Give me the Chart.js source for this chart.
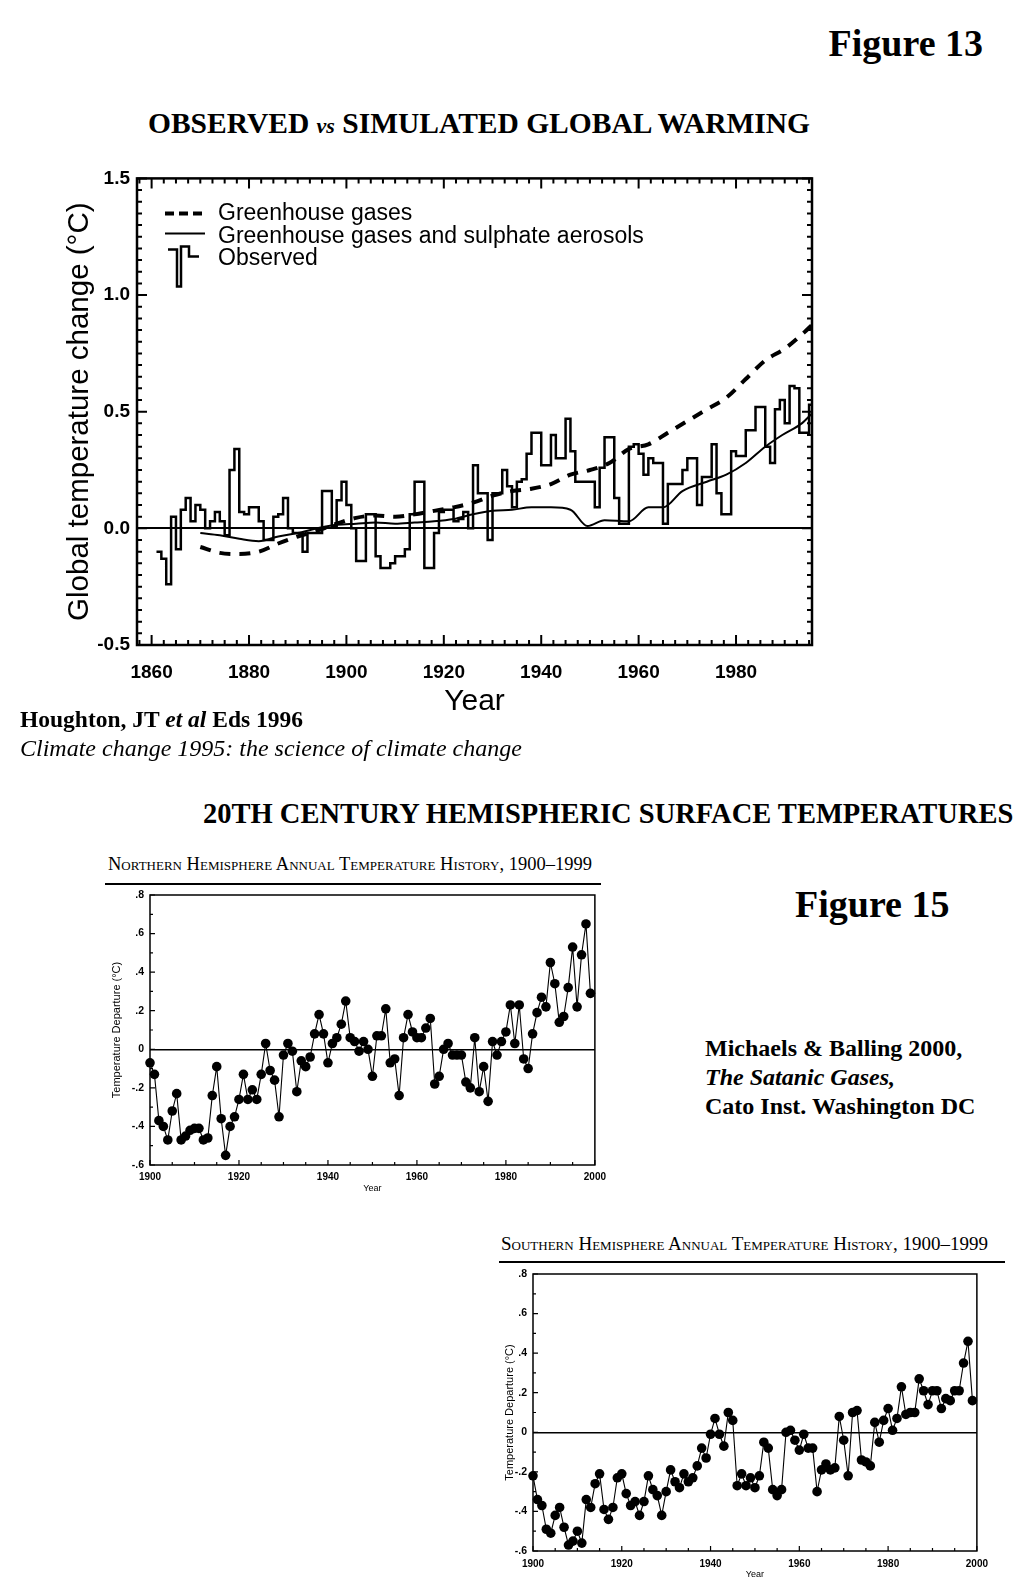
<!DOCTYPE html>
<html>
<head>
<meta charset="utf-8">
<script src="https://cdn.jsdelivr.net/npm/chart.js@4.4.1/dist/chart.umd.min.js"></script>
<style>
  body { margin: 0; background: #fff; }
  #page { position: relative; width: 1016px; height: 1580px; overflow: hidden;
          font-family: "Liberation Serif", "Times New Roman", serif; color: #000; }
  .t { position: absolute; white-space: nowrap; line-height: 1; font-weight: bold; }
  .sc { font-variant: small-caps; font-weight: normal; }
  .rule { position: absolute; height: 2px; background: #000; }
  canvas { position: absolute; }
</style>
</head>
<body>
<div id="page">
  <div class="t" style="right:33px; top:24px; font-size:38px;">Figure 13</div>
  <div class="t" style="left:0; width:958px; text-align:center; top:109px; font-size:29.5px;">OBSERVED <i style="font-size:22px;">vs</i> SIMULATED GLOBAL WARMING</div>
  <canvas id="fig13" width="790" height="560" style="left:40px; top:160px;"></canvas>
  <div class="t" style="left:20px; top:708px; font-size:23.5px;">Houghton, JT <i>et al</i> Eds 1996</div>
  <div class="t" style="left:20px; top:736px; font-size:24px; font-weight:normal; font-style:italic;">Climate change 1995: the science of climate change</div>

  <div class="t" style="left:203px; top:800px; font-size:28.5px;">20TH CENTURY HEMISPHERIC SURFACE TEMPERATURES</div>
  <div class="t sc" style="left:108px; top:855px; font-size:18.5px;">Northern Hemisphere Annual Temperature History, 1900–1999</div>
  <div class="rule" style="left:105px; top:883px; width:496px;"></div>
  <canvas id="nh" width="512" height="320" style="left:100px; top:880px;"></canvas>

  <div class="t" style="left:795px; top:885px; font-size:38px;">Figure 15</div>
  <div class="t" style="left:705px; top:1034px; font-size:24px; line-height:29px;">Michaels &amp; Balling 2000,<br><i>The Satanic Gases,</i><br>Cato Inst. Washington DC</div>

  <div class="t sc" style="left:501px; top:1234px; font-size:19px;">Southern Hemisphere Annual Temperature History, 1900–1999</div>
  <div class="rule" style="left:499px; top:1261px; width:506px;"></div>
  <canvas id="sh" width="500" height="322" style="left:495px; top:1258px;"></canvas>
</div>

<script>
// Figure 13: observed annual global anomaly (step line), one value per year from 1861
const obsFirstYear = 1861;
const obsTemp = [
  -0.10, -0.13, -0.24, 0.05, -0.09, 0.08, 0.13, 0.03, 0.10, 0.08,   // 1861-1870
  0.00, 0.03, 0.07, 0.03, -0.03, 0.25, 0.34, 0.07, 0.06, 0.09,      // 1871-1880
  0.09, 0.03, -0.05, -0.05, 0.05, 0.06, 0.13, 0.00, -0.02, -0.02,   // 1881-1890
  -0.10, -0.02, -0.02, -0.02, 0.16, 0.16, 0.01, 0.12, 0.20, 0.10,   // 1891-1900
  0.00, -0.14, -0.14, 0.06, 0.06, -0.12, -0.17, -0.17, -0.15, -0.12, // 1901-1910
  -0.12, -0.09, 0.06, 0.20, 0.20, -0.17, -0.17, -0.02, 0.07, 0.08,  // 1911-1920
  0.08, 0.03, 0.04, 0.07, 0.00, 0.27, 0.15, 0.15, -0.05, 0.15,      // 1921-1930
  0.15, 0.25, 0.18, 0.09, 0.20, 0.21, 0.32, 0.41, 0.41, 0.27,       // 1931-1940
  0.27, 0.40, 0.30, 0.30, 0.47, 0.33, 0.20, 0.20, 0.20, 0.20,       // 1941-1950
  0.09, 0.26, 0.39, 0.39, 0.13, 0.02, 0.02, 0.35, 0.36, 0.32,       // 1951-1960
  0.23, 0.30, 0.28, 0.28, 0.02, 0.19, 0.19, 0.19, 0.25, 0.30,       // 1961-1970
  0.30, 0.10, 0.22, 0.22, 0.36, 0.15, 0.06, 0.06, 0.33, 0.31,       // 1971-1980
  0.31, 0.42, 0.42, 0.52, 0.52, 0.35, 0.28, 0.51, 0.55, 0.45,       // 1981-1990
  0.61, 0.60, 0.41, 0.41, 0.53                                      // 1991-1995
];

// model runs (smooth curves)
const ghgYears = [1870, 1874, 1878, 1882, 1886, 1890, 1894, 1898, 1902, 1906, 1910, 1914, 1918,
  1922, 1926, 1930, 1934, 1938, 1942, 1946, 1950, 1954, 1958, 1962, 1966, 1970, 1974, 1978,
  1982, 1986, 1990, 1994, 1995.5];
const ghgTemp = [-0.08, -0.105, -0.11, -0.10, -0.065, -0.035, -0.01, 0.02, 0.045, 0.055, 0.05, 0.06, 0.075,
  0.09, 0.11, 0.14, 0.16, 0.17, 0.19, 0.23, 0.25, 0.28, 0.34, 0.36, 0.41, 0.46, 0.51, 0.56,
  0.64, 0.72, 0.77, 0.84, 0.87];
const ghgSulYears = [1870, 1874, 1878, 1882, 1886, 1890, 1894, 1898, 1902, 1906, 1910, 1914, 1918,
  1922, 1926, 1930, 1934, 1938, 1942, 1946, 1949.5, 1953, 1958, 1962, 1965, 1969, 1974, 1978,
  1982, 1986, 1989.5, 1993.5, 1995.5];
const ghgSulTemp = [-0.02, -0.03, -0.045, -0.055, -0.035, -0.02, 0.0, 0.015, 0.02, 0.025, 0.02, 0.025, 0.03,
  0.04, 0.06, 0.075, 0.08, 0.09, 0.09, 0.08, 0.01, 0.035, 0.03, 0.09, 0.09, 0.16, 0.20, 0.23,
  0.28, 0.35, 0.40, 0.45, 0.49];

const fig13XTicks = [1860, 1880, 1900, 1920, 1940, 1960, 1980];
const fig13YTicks = [-0.5, 0.0, 0.5, 1.0, 1.5];

// Figure 15: hemispheric annual departures, 1900-1999
const hemiFirstYear = 1900;
const nhTemp = [
  -0.07, -0.13, -0.37, -0.40, -0.47, -0.32, -0.23, -0.47, -0.45, -0.42,
  -0.41, -0.41, -0.47, -0.46, -0.24, -0.09, -0.36, -0.55, -0.40, -0.35,
  -0.26, -0.13, -0.26, -0.21, -0.26, -0.13, 0.03, -0.11, -0.16, -0.35,
  -0.03, 0.03, -0.01, -0.22, -0.06, -0.09, -0.04, 0.08, 0.18, 0.08,
  -0.07, 0.03, 0.06, 0.13, 0.25, 0.06, 0.04, -0.01, 0.04, 0.00,
  -0.14, 0.07, 0.07, 0.21, -0.07, -0.05, -0.24, 0.06, 0.18, 0.09,
  0.06, 0.06, 0.11, 0.16, -0.18, -0.14, 0.00, 0.03, -0.03, -0.03,
  -0.03, -0.17, -0.20, 0.06, -0.22, -0.09, -0.27, 0.04, -0.03, 0.04,
  0.09, 0.23, 0.03, 0.23, -0.05, -0.10, 0.08, 0.19, 0.27, 0.22,
  0.45, 0.34, 0.14, 0.17, 0.32, 0.53, 0.22, 0.49, 0.65, 0.29
];
const shTemp = [
  -0.22, -0.34, -0.37, -0.49, -0.51, -0.42, -0.38, -0.48, -0.57, -0.55,
  -0.50, -0.56, -0.34, -0.38, -0.26, -0.21, -0.39, -0.44, -0.38, -0.23,
  -0.21, -0.31, -0.37, -0.35, -0.42, -0.35, -0.22, -0.29, -0.32, -0.42,
  -0.30, -0.19, -0.25, -0.28, -0.21, -0.25, -0.23, -0.17, -0.08, -0.13,
  -0.01, 0.07, -0.01, -0.07, 0.10, 0.06, -0.27, -0.21, -0.27, -0.23,
  -0.28, -0.22, -0.05, -0.08, -0.29, -0.32, -0.29, 0.00, 0.01, -0.04,
  -0.09, -0.01, -0.08, -0.08, -0.30, -0.19, -0.16, -0.19, -0.18, 0.08,
  -0.04, -0.22, 0.10, 0.11, -0.14, -0.15, -0.17, 0.05, -0.05, 0.06,
  0.12, 0.01, 0.07, 0.23, 0.09, 0.10, 0.10, 0.27, 0.21, 0.14,
  0.21, 0.21, 0.12, 0.17, 0.16, 0.21, 0.21, 0.35, 0.46, 0.16
];
const hemiXTicks = [1900, 1920, 1940, 1960, 1980, 2000];
const hemiYTicks = [-0.6, -0.4, -0.2, 0, 0.2, 0.4, 0.6, 0.8];

const SANS = '"Liberation Sans", Arial, Helvetica, sans-serif';

// box round the plot plus inward tick marks
const frameTicks = {
  id: 'frameTicks',
  afterDatasetsDraw(chart, args, o) {
    const { ctx, chartArea: a } = chart;
    const sx = chart.scales.x, sy = chart.scales.y;
    const steps = (s, step) => {
      const out = [];
      const n0 = Math.ceil(s.min / step - 1e-6), n1 = Math.floor(s.max / step + 1e-6);
      for (let n = n0; n <= n1; n++) out.push(n * step);
      return out;
    };
    const major = (v, m) => Math.abs(v / m - Math.round(v / m)) < 1e-6;
    ctx.save();
    ctx.strokeStyle = '#000';
    ctx.lineWidth = o.frame;
    ctx.strokeRect(a.left, a.top, a.right - a.left, a.bottom - a.top);
    ctx.lineWidth = o.tick;
    ctx.beginPath();
    steps(sx, o.xMinor).forEach(v => {
      const p = sx.getPixelForValue(v);
      const len = major(v, o.xMajor) ? o.major : o.minor;
      if (o.sides.includes('bottom')) { ctx.moveTo(p, a.bottom); ctx.lineTo(p, a.bottom - len); }
      if (o.sides.includes('top')) { ctx.moveTo(p, a.top); ctx.lineTo(p, a.top + len); }
    });
    steps(sy, o.yMinor).forEach(v => {
      const p = sy.getPixelForValue(v);
      const len = major(v, o.yMajor) ? o.major : o.minor;
      if (o.sides.includes('left')) { ctx.moveTo(a.left, p); ctx.lineTo(a.left + len, p); }
      if (o.sides.includes('right')) { ctx.moveTo(a.right, p); ctx.lineTo(a.right - len, p); }
    });
    ctx.stroke();
    ctx.restore();
  }
};

// legend drawn inside the plot, top left
const fig13Legend = {
  id: 'fig13Legend',
  afterDraw(chart) {
    const { ctx, chartArea: a } = chart;
    const ds = chart.data.datasets;
    const x0 = a.left + 28, x1 = a.left + 68, tx = a.left + 81;
    const rows = [a.top + 35, a.top + 58, a.top + 80];
    ctx.save();
    ctx.strokeStyle = '#000';
    ctx.fillStyle = '#000';
    ctx.font = '23px ' + SANS;
    ctx.textBaseline = 'middle';

    ctx.lineWidth = ds[0].borderWidth;
    ctx.setLineDash([9, 5]);
    ctx.beginPath(); ctx.moveTo(x0, rows[0]); ctx.lineTo(x1, rows[0]); ctx.stroke();
    ctx.setLineDash([]);

    ctx.lineWidth = ds[1].borderWidth;
    ctx.beginPath(); ctx.moveTo(x0, rows[1] - 3); ctx.lineTo(x1, rows[1] - 3); ctx.stroke();

    const y = rows[2];
    ctx.lineWidth = ds[2].borderWidth;
    ctx.beginPath();
    ctx.moveTo(x0 + 3, y - 9); ctx.lineTo(x0 + 12, y - 9); ctx.lineTo(x0 + 12, y + 28);
    ctx.lineTo(x0 + 16, y + 28); ctx.lineTo(x0 + 16, y - 12); ctx.lineTo(x0 + 24, y - 12);
    ctx.lineTo(x0 + 24, y - 2); ctx.lineTo(x0 + 34, y - 2);
    ctx.stroke();

    ds.forEach((d, i) => ctx.fillText(d.label, tx, rows[i]));
    ctx.restore();
  }
};

const zeroOnly = c => (c.tick && c.tick.value === 0 ? '#000' : 'rgba(0,0,0,0)');

// ---------- Figure 13 ----------
const obsPoints = obsTemp.map((v, i) => ({ x: obsFirstYear + i, y: v }));
obsPoints.push({ x: obsFirstYear + obsTemp.length, y: obsTemp[obsTemp.length - 1] });

new Chart(document.getElementById('fig13'), {
  type: 'line',
  data: {
    datasets: [
      {
        label: 'Greenhouse gases',
        data: ghgYears.map((x, i) => ({ x, y: ghgTemp[i] })),
        borderColor: '#000', borderWidth: 4, borderDash: [11, 9],
        pointRadius: 0, cubicInterpolationMode: 'monotone'
      },
      {
        label: 'Greenhouse gases and sulphate aerosols',
        data: ghgSulYears.map((x, i) => ({ x, y: ghgSulTemp[i] })),
        borderColor: '#000', borderWidth: 2,
        pointRadius: 0, cubicInterpolationMode: 'monotone'
      },
      {
        label: 'Observed',
        data: obsPoints,
        borderColor: '#000', borderWidth: 2.5,
        pointRadius: 0, stepped: true
      }
    ]
  },
  options: {
    responsive: false,
    animation: false,
    layout: { padding: { top: 16, right: 18, left: 0, bottom: 0 } },
    plugins: {
      legend: { display: false },
      tooltip: { enabled: false },
      frameTicks: { frame: 2.5, tick: 2, major: 10, minor: 5, xMinor: 2.5, xMajor: 20,
                    yMinor: 0.05, yMajor: 0.5, sides: ['left', 'right', 'top', 'bottom'] }
    },
    scales: {
      x: {
        type: 'linear', min: 1857, max: 1995.6,
        afterBuildTicks: s => { s.ticks = fig13XTicks.map(v => ({ value: v })); },
        afterFit: s => { s.height = 75; },
        grid: { display: false, drawTicks: false },
        border: { display: false },
        ticks: { padding: 16, color: '#000', font: { family: SANS, size: 19, weight: 'bold' },
                 callback: v => String(v) },
        title: { display: true, text: 'Year', color: '#000',
                 font: { family: SANS, size: 30 }, padding: { top: 0, bottom: 0 } }
      },
      y: {
        min: -0.5, max: 1.5,
        afterBuildTicks: s => { s.ticks = fig13YTicks.map(v => ({ value: v })); },
        afterFit: s => { s.width = 97; },
        grid: { color: zeroOnly, lineWidth: 2, drawTicks: false },
        border: { display: false },
        ticks: { padding: 7, color: '#000', font: { family: SANS, size: 19, weight: 'bold' },
                 callback: v => v.toFixed(1) },
        title: { display: true, text: 'Global temperature change (°C)', color: '#000',
                 font: { family: SANS, size: 29.5 }, padding: { top: 22, bottom: 0 } }
      }
    }
  },
  plugins: [frameTicks, fig13Legend]
});

// ---------- Figure 15 ----------
function hemiChart(id, temps, box) {
  return new Chart(document.getElementById(id), {
    type: 'line',
    data: {
      datasets: [{
        label: id,
        data: temps.map((v, i) => ({ x: hemiFirstYear + i, y: v })),
        borderColor: '#000', borderWidth: 1.1,
        pointRadius: 4.8, pointBackgroundColor: '#000', pointBorderWidth: 0,
        clip: false
      }]
    },
    options: {
      responsive: false,
      animation: false,
      layout: { padding: { top: box.top, right: box.right, left: 0, bottom: 0 } },
      plugins: {
        legend: { display: false },
        tooltip: { enabled: false },
        frameTicks: { frame: 1.5, tick: 1.2, major: 5, minor: 3, xMinor: 5, xMajor: 20,
                      yMinor: 0.1, yMajor: 0.2, sides: ['left', 'bottom'] }
      },
      scales: {
        x: {
          type: 'linear', min: 1900, max: 2000,
          afterBuildTicks: s => { s.ticks = hemiXTicks.map(v => ({ value: v })); },
          afterFit: s => { s.height = box.xh; },
          grid: { display: false, drawTicks: false },
          border: { display: false },
          ticks: { padding: box.xp, color: '#000', maxRotation: 0,
                   font: { family: SANS, size: 10, weight: 'bold' }, callback: v => String(v) },
          title: { display: true, text: 'Year', color: '#000',
                   font: { family: SANS, size: 9 }, padding: { top: 0, bottom: box.xt } }
        },
        y: {
          min: -0.6, max: 0.8,
          afterBuildTicks: s => { s.ticks = hemiYTicks.map(v => ({ value: v })); },
          afterFit: s => { s.width = box.yw; },
          grid: { color: zeroOnly, lineWidth: 1.5, drawTicks: false },
          border: { display: false },
          ticks: { padding: 6, color: '#000', font: { family: SANS, size: 10.5, weight: 'bold' },
                   callback: v => (Math.abs(v) < 1e-9 ? '0' : (v < 0 ? '-' : '') + '.' + Math.round(Math.abs(v) * 10)) },
          title: { display: true, text: 'Temperature Departure (°C)', color: '#000',
                   font: { family: SANS, size: 11 }, padding: { top: box.yt, bottom: 0 } }
        }
      }
    },
    plugins: [frameTicks]
  });
}

hemiChart('nh', nhTemp, { top: 15, right: 15, xh: 35, xp: 6, xt: 6, yw: 50, yt: 10 });
hemiChart('sh', shTemp, { top: 16, right: 11, xh: 29, xp: 7, xt: 0, yw: 38, yt: 8 });
</script>
</body>
</html>
